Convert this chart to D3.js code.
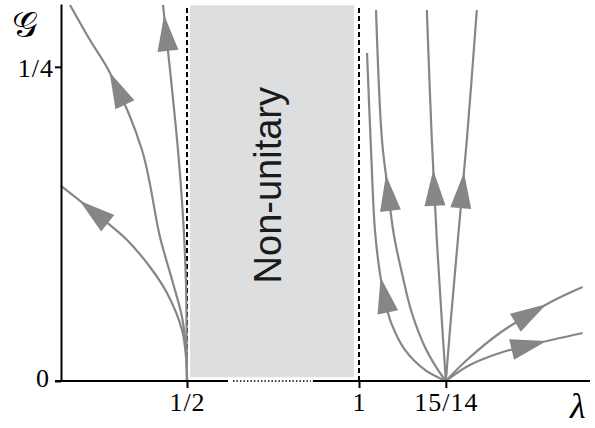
<!DOCTYPE html>
<html>
<head>
<meta charset="utf-8">
<script src="https://cdn.jsdelivr.net/npm/d3@7"></script>
<style>
  body { margin: 0; background: #fff; }
</style>
</head>
<body>
<div id="chart"></div>
<script>
var width = 595, height = 428;

// ticks
var xTicks = [0.5, 1, 15 / 14];
var xTickLabels = ["1/2", "1", "15/14"];
var yTicks = [0, 0.25];
var yTickLabels = ["0", "1/4"];

// shaded non-unitary band and the broken part of the axis (in lambda)
var nonUnitary = [0.509, 0.986];
var bandG = [0.003, 0.299];
var axisBreak = [0.619, 0.866];
var dashedAt = [0.5, 1];

// flow lines, [lambda, G], from the fixed point outwards
var flowA = [[0.5, 0], [0.499, 0.0143], [0.4901, 0.0406], [0.4603, 0.0700], [0.4266, 0.0907],
             [0.3810, 0.1122], [0.3274, 0.1305], [0.25, 0.1552]];
var flowB = [[0.5, 0], [0.498, 0.0247], [0.4901, 0.0509], [0.4722, 0.0780], [0.4464, 0.1146],
             [0.4107, 0.1838], [0.3472, 0.2451], [0.3075, 0.2713], [0.2679, 0.2992]];
var flowC = [[0.5, 0], [0.4994, 0.0247], [0.498, 0.0780], [0.4921, 0.1305], [0.4821, 0.1838],
             [0.4663, 0.2475], [0.4524, 0.2992]];
var flowD = [[15 / 14, 0], [1.0542, 0.0088], [1.0378, 0.0247], [1.0271, 0.0446], [1.0222, 0.0605],
             [1.0172, 0.0859], [1.0131, 0.1202], [1.0099, 0.1838], [1.0066, 0.2610]];
var flowE = [[15 / 14, 0], [1.0640, 0.0103], [1.0542, 0.0271], [1.0435, 0.0541], [1.0353, 0.0859],
             [1.0287, 0.1162], [1.0238, 0.1520], [1.0189, 0.1918], [1.0140, 0.2952]];
var flowF = [[15 / 14, 0], [1.0681, 0.0485], [1.0640, 0.1122], [1.0599, 0.1918], [1.0558, 0.2952]];
var flowG = [[15 / 14, 0], [1.0755, 0.0485], [1.0813, 0.1122], [1.0887, 0.1918], [1.0969, 0.2952]];
var flowH = [[15 / 14, 0], [1.0887, 0.0167], [1.1158, 0.0382], [1.1404, 0.0533], [1.1609, 0.0645],
             [1.1839, 0.0748]];
var flowI = [[15 / 14, 0], [1.0911, 0.0127], [1.1158, 0.0223], [1.1404, 0.0286], [1.1839, 0.0382]];

var flows = [flowA, flowB, flowC, flowD, flowE, flowF, flowG, flowH, flowI];

// arrow tips: [flow index, lambda, G]
var arrowTips = [[0, 0.2877, 0.1440], [1, 0.3433, 0.2451], [2, 0.4563, 0.2912],
                 [3, 1.0189, 0.0828], [4, 1.0230, 0.1639], [5, 1.0616, 0.1679],
                 [6, 1.0846, 0.1663], [7, 1.1544, 0.0605], [8, 1.1544, 0.0310]];

var svg = d3.select("#chart")
    .append("svg")
    .attr("width", width)
    .attr("height", height);

// scales (x is broken between 1/2 and 1)
var x = d3.scaleLinear()
    .domain([0.25, 0.5, 1, 1.19])
    .range([61, 187, 359, 590]);

var y = d3.scaleLinear()
    .domain([0, 0.3])
    .range([381, 4]);

var gray = "#868686";

// shaded band
svg.append("rect")
    .attr("x", x(nonUnitary[0]))
    .attr("y", y(bandG[1]))
    .attr("width", x(nonUnitary[1]) - x(nonUnitary[0]))
    .attr("height", y(bandG[0]) - y(bandG[1]))
    .attr("fill", "#dddee0");

svg.append("text")
    .attr("transform", "translate(281," + ((y(bandG[0]) + y(bandG[1])) / 2 - 6) + ") rotate(-90)")
    .attr("text-anchor", "middle")
    .style("font-family", "'Liberation Sans', Arial, sans-serif")
    .style("font-size", "38px")
    .style("fill", "#1a1a1a")
    .text("Non-unitary");

// dashed boundaries
svg.selectAll("line.bound")
    .data(dashedAt)
    .enter()
    .append("line")
    .attr("class", "bound")
    .attr("x1", function (d) { return x(d); })
    .attr("x2", function (d) { return x(d); })
    .attr("y1", y(0))
    .attr("y2", y(bandG[1]))
    .attr("stroke", "#000")
    .attr("stroke-width", 2)
    .attr("stroke-dasharray", "5,3");

// flow lines
var lineGen = d3.line()
    .x(function (d) { return x(d[0]); })
    .y(function (d) { return y(d[1]); })
    .curve(d3.curveCatmullRom.alpha(0.5));

var paths = svg.selectAll("path.flow")
    .data(flows)
    .enter()
    .append("path")
    .attr("class", "flow")
    .attr("d", lineGen)
    .attr("fill", "none")
    .attr("stroke", gray)
    .attr("stroke-width", 2.2);

// arrow heads, placed on the path nearest to each tip
var arrowLen = 36, arrowHalf = 10.5;
arrowTips.forEach(function (a) {
    var node = paths.nodes()[a[0]];
    var total = node.getTotalLength();
    var tx = x(a[1]), ty = y(a[2]);
    var best = 0, bd = Infinity;
    for (var l = 0; l <= total; l += 0.5) {
        var p = node.getPointAtLength(l);
        var dd = (p.x - tx) * (p.x - tx) + (p.y - ty) * (p.y - ty);
        if (dd < bd) { bd = dd; best = l; }
    }
    var tip = node.getPointAtLength(best);
    var back = node.getPointAtLength(Math.max(0, best - arrowLen));
    var ang = Math.atan2(tip.y - back.y, tip.x - back.x) * 180 / Math.PI;
    svg.append("path")
        .attr("d", "M0,0L" + (-arrowLen) + "," + arrowHalf + "L" + (-arrowLen) + "," + (-arrowHalf) + "Z")
        .attr("transform", "translate(" + tip.x + "," + tip.y + ") rotate(" + ang + ")")
        .attr("fill", gray);
});

// y axis
var yAxis = svg.append("g")
    .attr("transform", "translate(" + x(0.25) + ",0)")
    .call(d3.axisLeft(y)
        .tickValues(yTicks)
        .tickSize(6)
        .tickSizeOuter(0)
        .tickPadding(2)
        .tickFormat(function (d, i) { return yTickLabels[i]; }));
yAxis.select(".domain").attr("stroke-width", 2);
yAxis.selectAll(".tick line").attr("stroke-width", 2);
yAxis.selectAll("text")
    .attr("dy", function (d, i) { return i === 0 ? "0.22em" : "0.38em"; })
    .attr("x", function (d, i) { return i === 0 ? -11 : -7; })
    .style("font-family", "'Liberation Serif', 'Times New Roman', serif")
    .style("font-size", "26px")
    .style("letter-spacing", "1px")
    .style("fill", "#000");

// x axis (domain replaced by a broken line)
var xAxis = svg.append("g")
    .attr("transform", "translate(0," + y(0) + ")")
    .call(d3.axisBottom(x)
        .tickValues(xTicks)
        .tickSize(7)
        .tickPadding(5)
        .tickFormat(function (d, i) { return xTickLabels[i]; }));
xAxis.select(".domain").remove();
xAxis.selectAll(".tick line").attr("stroke-width", 2);
xAxis.selectAll("text")
    .style("font-family", "'Liberation Serif', 'Times New Roman', serif")
    .style("font-size", "26px")
    .style("letter-spacing", "1px")
    .style("fill", "#000");

xAxis.append("line")
    .attr("x1", x(0.25) - 6).attr("x2", x(axisBreak[0]))
    .attr("stroke", "#000").attr("stroke-width", 2);
xAxis.append("line")
    .attr("x1", x(axisBreak[0]) + 5).attr("x2", x(axisBreak[1]) - 2)
    .attr("stroke", "#000").attr("stroke-width", 1.5)
    .attr("stroke-dasharray", "1.5,2");
xAxis.append("line")
    .attr("x1", x(axisBreak[1])).attr("x2", x(1.19))
    .attr("stroke", "#000").attr("stroke-width", 2);

// axis titles
svg.append("text")
    .attr("x", 12)
    .attr("y", 37)
    .style("font-family", "'DejaVu Serif', 'Liberation Serif', serif")
    .style("font-size", "36px")
    .style("fill", "#000")
    .text("\u{1D4A2}");

svg.append("text")
    .attr("x", 570)
    .attr("y", 418)
    .style("font-family", "'Liberation Serif', serif")
    .style("font-style", "italic")
    .style("font-size", "36px")
    .style("fill", "#000")
    .text("λ");
</script>
</body>
</html>
